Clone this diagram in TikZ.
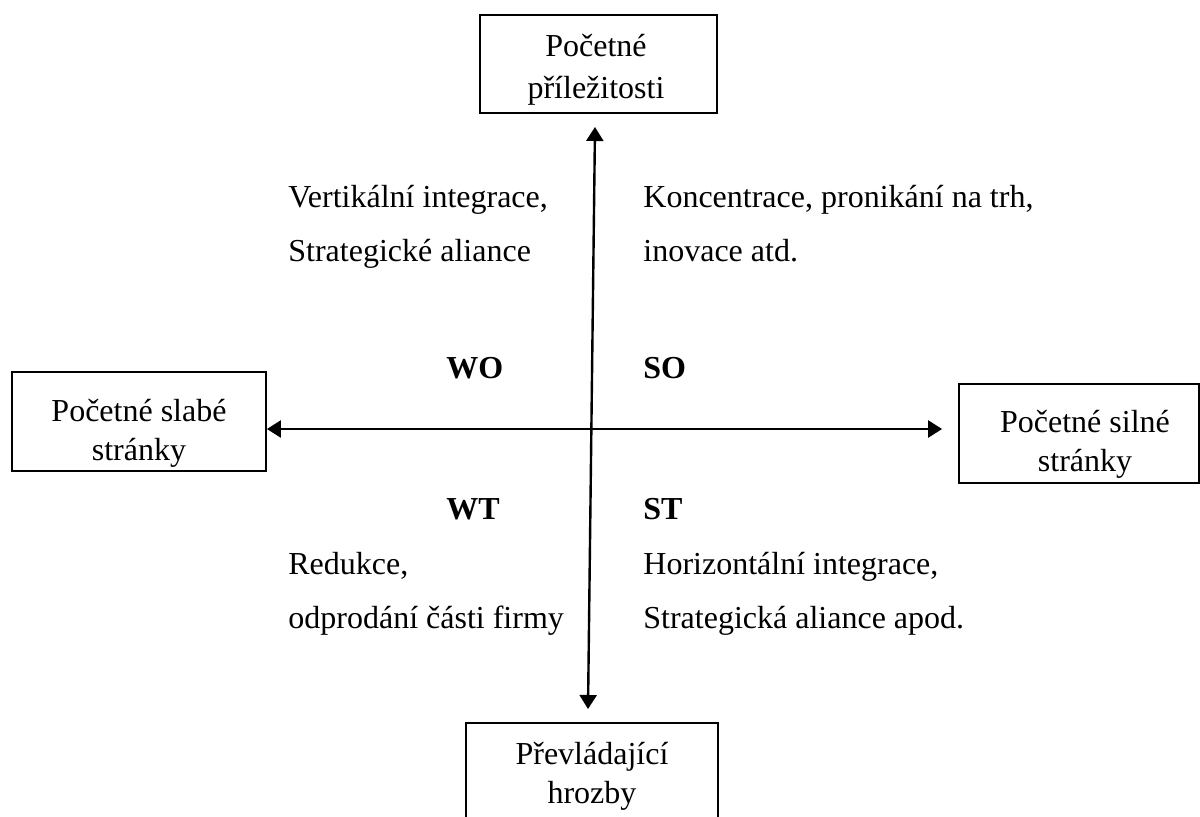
\documentclass[tikz,border=0pt]{standalone}
\usepackage{fontspec}
\setmainfont{Liberation Serif}
\usetikzlibrary{arrows.meta}
\begin{document}
\begin{tikzpicture}[
  x={(0.5pt,0)}, y={(0,-0.5pt)},
  every node/.style={font=\fontsize{16}{19.5}\selectfont, inner sep=0pt},
  box/.style={draw, line width=0.9pt, rectangle},
  boxtext/.style={align=center},
  label/.style={anchor=base west},
  tag/.style={anchor=base west, font=\fontsize{16}{19.5}\selectfont\bfseries},
  axis/.style={line width=1.2pt, {Triangle[length=7pt,width=8.5pt]}-{Triangle[length=7pt,width=8.5pt]}}
]
\useasboundingbox (0,0) rectangle (1200,816);

% corner boxes
\node[box, minimum width=118.5pt, minimum height=49pt] (top) at (598.5,64) {};
\node[box, minimum width=127pt, minimum height=49.5pt] (left) at (139,421.5) {};
\node[box, minimum width=120pt, minimum height=49.5pt] (right) at (1079,433.5) {};
\node[box, minimum width=126pt, minimum height=52pt] (bottom) at (592,775) {};

% box captions
\node[boxtext, font=\fontsize{16}{21}\selectfont] (toptxt) at (596,70) {Početné\\příležitosti};
\node[boxtext] (lefttxt) at (139,433) {Početné slabé\\stránky};
\node[boxtext] (righttxt) at (1085,444) {Početné silné\\stránky};
\node[boxtext] (bottomtxt) at (592,776) {Převládající\\hrozby};

% axes
\coordinate (cross) at (592,429);
\coordinate (vtop) at (595,127);
\coordinate (vbot) at (588,709);
\draw[axis] (vtop) -- (vbot);
\draw[axis, shorten >=8pt] (left.east |- cross) -- (right.west |- cross);

% quadrant texts
\node[label] (wo1) at (288,207) {Vertikální integrace,};
\node[label] (wo2) at (288,261) {Strategické aliance};
\node[label] (so1) at (643,207) {Koncentrace, pronikání na trh,};
\node[label] (so2) at (643,261) {inovace atd.};

\node[tag] (wo) at (446,378) {WO};
\node[tag] (so) at (643,378) {SO};
\node[tag] (wt) at (446,519) {WT};
\node[tag] (st) at (643,519) {ST};

\node[label] (wt1) at (288,574) {Redukce,};
\node[label] (wt2) at (288,628) {odprodání části firmy};
\node[label] (st1) at (643,574) {Horizontální integrace,};
\node[label] (st2) at (643,628) {Strategická aliance apod.};
\end{tikzpicture}
\end{document}
